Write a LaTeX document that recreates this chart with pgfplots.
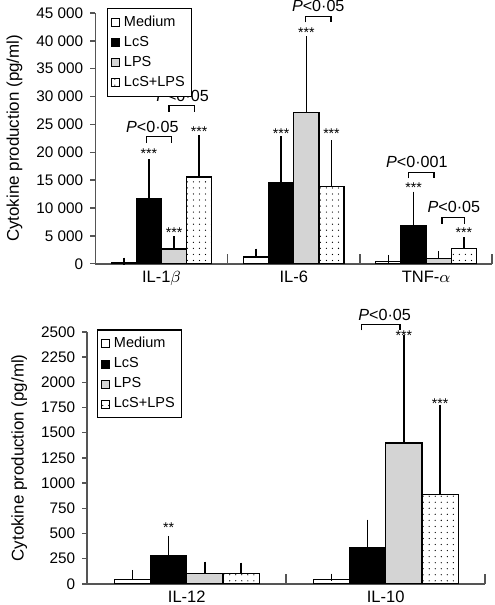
\documentclass[border=0pt]{standalone}
\usepackage{fontspec}
\setmainfont{Liberation Sans}
\usepackage{pgfplots}
\pgfplotsset{compat=1.18}
\usetikzlibrary{patterns.meta}
\definecolor{lpsgray}{RGB}{212,212,212}
\definecolor{axgray}{RGB}{85,85,85}
\newcommand{\fs}[1]{\fontsize{#1}{#1}\selectfont}
\tikzset{
  star/.style={font=\fs{7}, inner sep=0pt, anchor=center},
  pv/.style={font=\fs{8}, inner sep=0pt, anchor=base},
  br/.style={line width=0.7pt, black},
}
\pgfplotsset{
  cyto/.style={
    scale only axis,
    clip=false,
    enlarge x limits=false, enlarge y limits=false,
    axis lines=left,
    axis line style={-, line width=0.8pt, axgray},
    ymin=0,
    scaled y ticks=false,
    tick align=outside,
    major tick length=2.5pt,
    y tick style={line width=0.7pt, axgray},
    x tick style={draw=none},
    extra x tick style={x tick style={draw=axgray, line width=0.8pt}, major tick length=5pt, tick align=inside},
    extra x tick labels={},
    tick label style={font=\fs{7.6}},
    x tick label style={font=\fs{8.2}, inner sep=1pt},
    /pgf/number format/assume math mode=true,
    ylabel={Cytokine production (pg/ml)},
    ylabel style={font=\fs{8.4}},
    legend image code/.code={\draw[#1, line width=0.5pt] (0pt,-2pt) rectangle (4pt,2pt);},
    legend style={draw=black, line width=0.6pt, font=\fs{7.2}, inner sep=1.5pt,
      cells={anchor=west}, row sep=-0.6pt},
  },
  eb/.style={
    error bars/y dir=plus, error bars/y explicit,
    error bars/error mark=-,
    error bars/error bar style={line width=0.8pt, draw=black, solid},
    error bars/error mark options={line width=0.8pt, draw=black, solid, mark size=1.9pt},
  },
  med/.style={ybar, bar shift=0pt, draw=black, fill=white, line width=0.6pt, eb},
  lcs/.style={ybar, bar shift=0pt, draw=black, fill=black, line width=0.6pt, eb},
  lps/.style={ybar, bar shift=0pt, draw=black, fill=lpsgray, line width=0.6pt, eb},
  lcslps/.style={ybar, bar shift=0pt, draw=black, fill=white, line width=0.6pt, eb,
    postaction={pattern={Dots[distance=3pt, radius=0.32pt]}}},
}
\begin{document}
\begin{tikzpicture}
% ---------------- top panel ----------------
\begin{axis}[cyto,
  at={(0pt,0pt)}, anchor=south west,
  width=197pt, height=124.5pt,
  xmin=-0.5, xmax=2.5, ymax=45000,
  xtick={0,1,2}, xticklabels={IL-1$\beta$, IL-6, TNF-$\alpha$},
  extra x ticks={0.5,1.5,2.5},
  ytick={0,5000,10000,15000,20000,25000,30000,35000,40000,45000},
  yticklabels={0,5 000,10 000,15 000,20 000,25 000,30 000,35 000,40 000,45 000},
  legend style={at={(0.03,1.02)}, anchor=north west},
  bar width=0.19,
]
% x positions: category centre (0, 1, 2) plus the bar's offset in the group
\addplot[med] coordinates
  {(-0.285,300) +- (0,120) (0.715,1200) +- (0,840) (1.715,420) +- (0,480)};
\addplot[lcs] coordinates
  {(-0.095,11700) +- (0,6350) (0.905,14560) +- (0,7640) (1.905,6860) +- (0,5410)};
\addplot[lps] coordinates
  {(0.095,2650) +- (0,1560) (1.095,27200) +- (0,12930) (2.095,900) +- (0,720)};
\addplot[lcslps] coordinates
  {(0.285,15580) +- (0,6800) (1.285,13840) +- (0,7640) (2.285,2770) +- (0,1260)};
\legend{Medium, LcS, LPS, LcS+LPS}
% annotations
\draw[br] (axis cs:-0.115,21630) -- (axis cs:-0.115,22820) -- (axis cs:0.076,22820) -- (axis cs:0.076,21630);
\node[pv] at (axis cs:-0.069,23500) {\textit{P}<0·05};
\draw[br] (axis cs:0.056,27310) -- (axis cs:0.056,28400) -- (axis cs:0.25,28400) -- (axis cs:0.25,27310);
\node[pv] at (axis cs:0.159,29050) {\textit{P}<0·05};
\draw[br] (axis cs:1.089,43320) -- (axis cs:1.089,44350) -- (axis cs:1.28,44350) -- (axis cs:1.28,43320);
\node[pv] at (axis cs:1.185,45300) {\textit{P}<0·05};
\draw[br] (axis cs:1.865,15340) -- (axis cs:1.865,16370) -- (axis cs:2.06,16370) -- (axis cs:2.06,15340);
\node[pv] at (axis cs:1.93,17300) {\textit{P}<0·001};
\draw[br] (axis cs:2.12,7220) -- (axis cs:2.12,8250) -- (axis cs:2.29,8250) -- (axis cs:2.29,7220);
\node[pv] at (axis cs:2.21,9200) {\textit{P}<0·05};
\node[star] at (axis cs:-0.095,19730) {***};
\node[star] at (axis cs:0.095,5600) {***};
\node[star] at (axis cs:0.285,23650) {***};
\node[star] at (axis cs:0.905,23340) {***};
\node[star] at (axis cs:1.095,41390) {***};
\node[star] at (axis cs:1.285,23340) {***};
\node[star] at (axis cs:1.905,13720) {***};
\node[star] at (axis cs:2.285,5600) {***};
\end{axis}
% ---------------- bottom panel ----------------
\begin{axis}[cyto,
  at={(-4pt,-158.85pt)}, anchor=south west,
  width=197.5pt, height=125pt,
  xmin=-0.5, xmax=1.5, ymax=2500,
  xtick={0,1}, xticklabels={IL-12, IL-10},
  extra x ticks={0.5,1.5},
  ytick={0,250,500,750,1000,1250,1500,1750,2000,2250,2500},
  yticklabels={0,250,500,750,1000,1250,1500,1750,2000,2250,2500},
  legend style={at={(0.025,1.01)}, anchor=north west},
  bar width=0.182,
]
\addplot[med] coordinates
  {(-0.273,43) +- (0,57) (0.727,43) +- (0,20)};
\addplot[lcs] coordinates
  {(-0.091,283) +- (0,154) (0.909,357) +- (0,243)};
\addplot[lps] coordinates
  {(0.091,100) +- (0,83) (1.091,1397) +- (0,1033)};
\addplot[lcslps] coordinates
  {(0.273,100) +- (0,73) (1.273,890) +- (0,850)};
\legend{Medium, LcS, LPS, LcS+LPS}
\draw[br] (axis cs:0.877,2517) -- (axis cs:0.877,2577) -- (axis cs:1.071,2577) -- (axis cs:1.071,2517);
\node[pv] at (axis cs:0.995,2610) {\textit{P}<0·05};
\node[star] at (axis cs:-0.091,554) {**};
\node[star] at (axis cs:1.091,2460) {***};
\node[star] at (axis cs:1.273,1793) {***};
\end{axis}
\end{tikzpicture}
\end{document}
